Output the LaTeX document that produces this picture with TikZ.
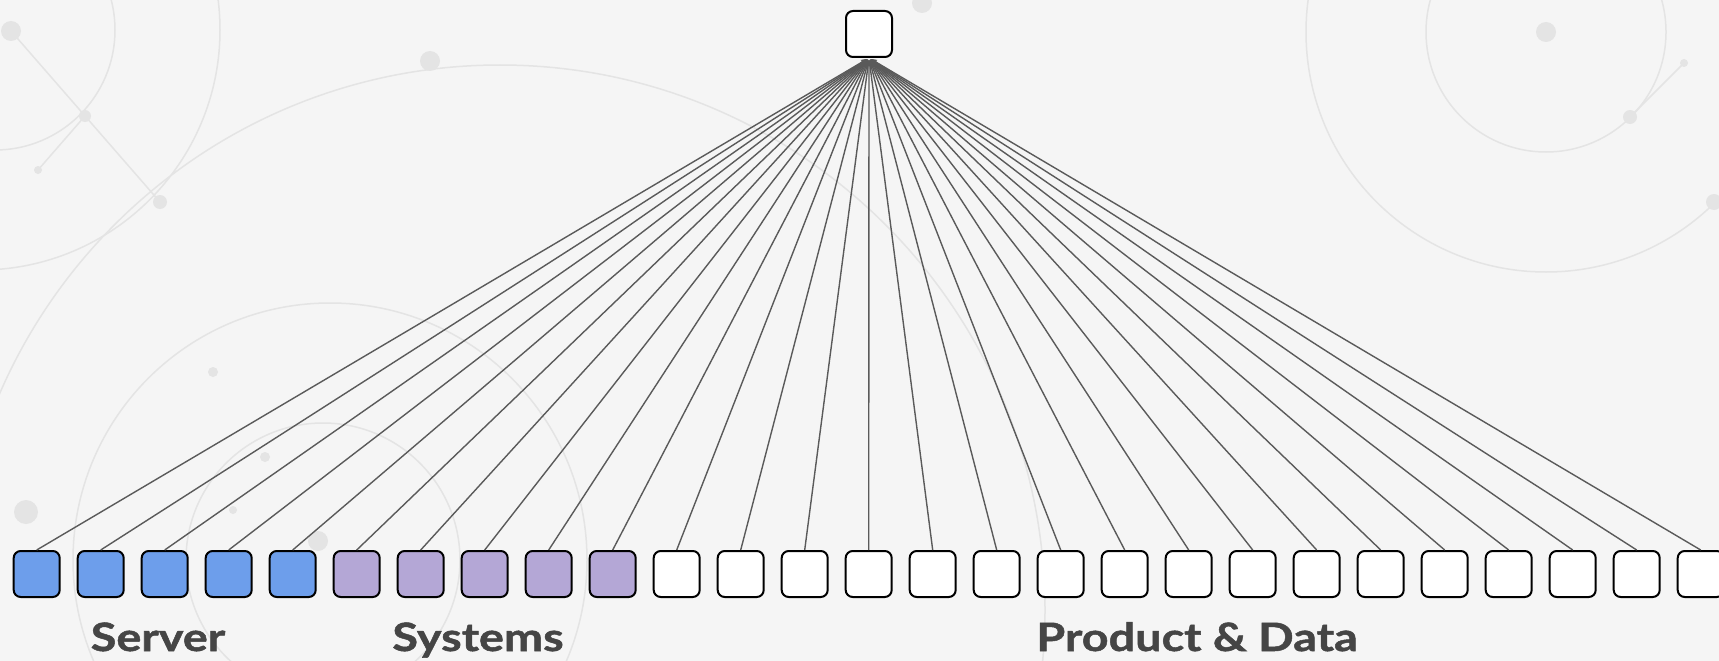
\documentclass[tikz,border=0pt]{standalone}
\usepackage{fontspec}
\setmainfont{Lato}
\newfontfamily\labelfont[FakeStretch=1.2,FakeBold=1.3]{Lato}
\usetikzlibrary{arrows.meta}

\definecolor{serverblue}{HTML}{6D9EEB}
\definecolor{systempurple}{HTML}{B4A7D6}
\definecolor{linegray}{HTML}{5A5A5A}
\definecolor{labelgray}{HTML}{454545}
\definecolor{bggray}{HTML}{F5F5F5}
\definecolor{decogray}{HTML}{E4E4E4}

\begin{document}
\begin{tikzpicture}[x=1pt,y=-1pt,
	box node/.style={rectangle,draw,line width=2pt,rounded corners=7pt,fill=white,minimum size=46pt,inner sep=0pt},
	server node/.style={box node,fill=serverblue},
	system node/.style={box node,fill=systempurple},
	edge/.style={-{Stealth[length=6pt,width=5pt]},linegray,line width=1.4pt,shorten >=2pt},
	group label/.style={font=\labelfont\bfseries\fontsize{39}{40}\selectfont,text=labelgray,anchor=base,inner sep=0pt},
	deco/.style={decogray,line width=1.5pt}
]

	\def \xstart {36.7};
	\def \pitch {64};
	\def \ybox {574};

	\fill[bggray] (0,0) rectangle (1719,661);
	\useasboundingbox (0,0) rectangle (1719,661);

	% background pattern
	\begin{scope}[deco]
		\draw (-5,30) circle (120) (-20,30) circle (240);
		\draw (1546,32) circle (120) (1546,32) circle (240);
		\draw (500,610) circle (545);
		\draw (330,560) circle (257) (323,560) circle (137);
		\draw (11,31) -- (160,202) (85,116) -- (38,170);
		\draw (1630,117) -- (1684,63);
		\foreach \p/\r in {(11,31)/10,(85,116)/6,(38,170)/4,(160,202)/7,(430,61)/10,
			(1546,32)/10,(1630,117)/7,(1684,63)/4,(1714,202)/8,(922,3)/10,
			(26,512)/12,(318,541)/10,(213,372)/5,(265,457)/5,(233,510)/4}
			\fill[decogray] \p circle (\r);
	\end{scope}

	\node[box node] (top) at (869,34) {};

	\foreach \i in {1,...,5}
		\node[server node] (b\i) at ({\xstart+\pitch*(\i-1)},\ybox) {};
	\foreach \i in {6,...,10}
		\node[system node] (b\i) at ({\xstart+\pitch*(\i-1)},\ybox) {};
	\foreach \i in {11,...,27}
		\node[box node] (b\i) at ({\xstart+\pitch*(\i-1)},\ybox) {};

	\foreach \i in {1,...,27}
		\draw[edge] (b\i.north) -- (top.south);

	\node[group label] (server) at (158,651) {Server};
	\node[group label] (systems) at (478,651) {Systems};
	\node[group label] (product) at (1197,651) {Product \& Data};
\end{tikzpicture}
\end{document}
